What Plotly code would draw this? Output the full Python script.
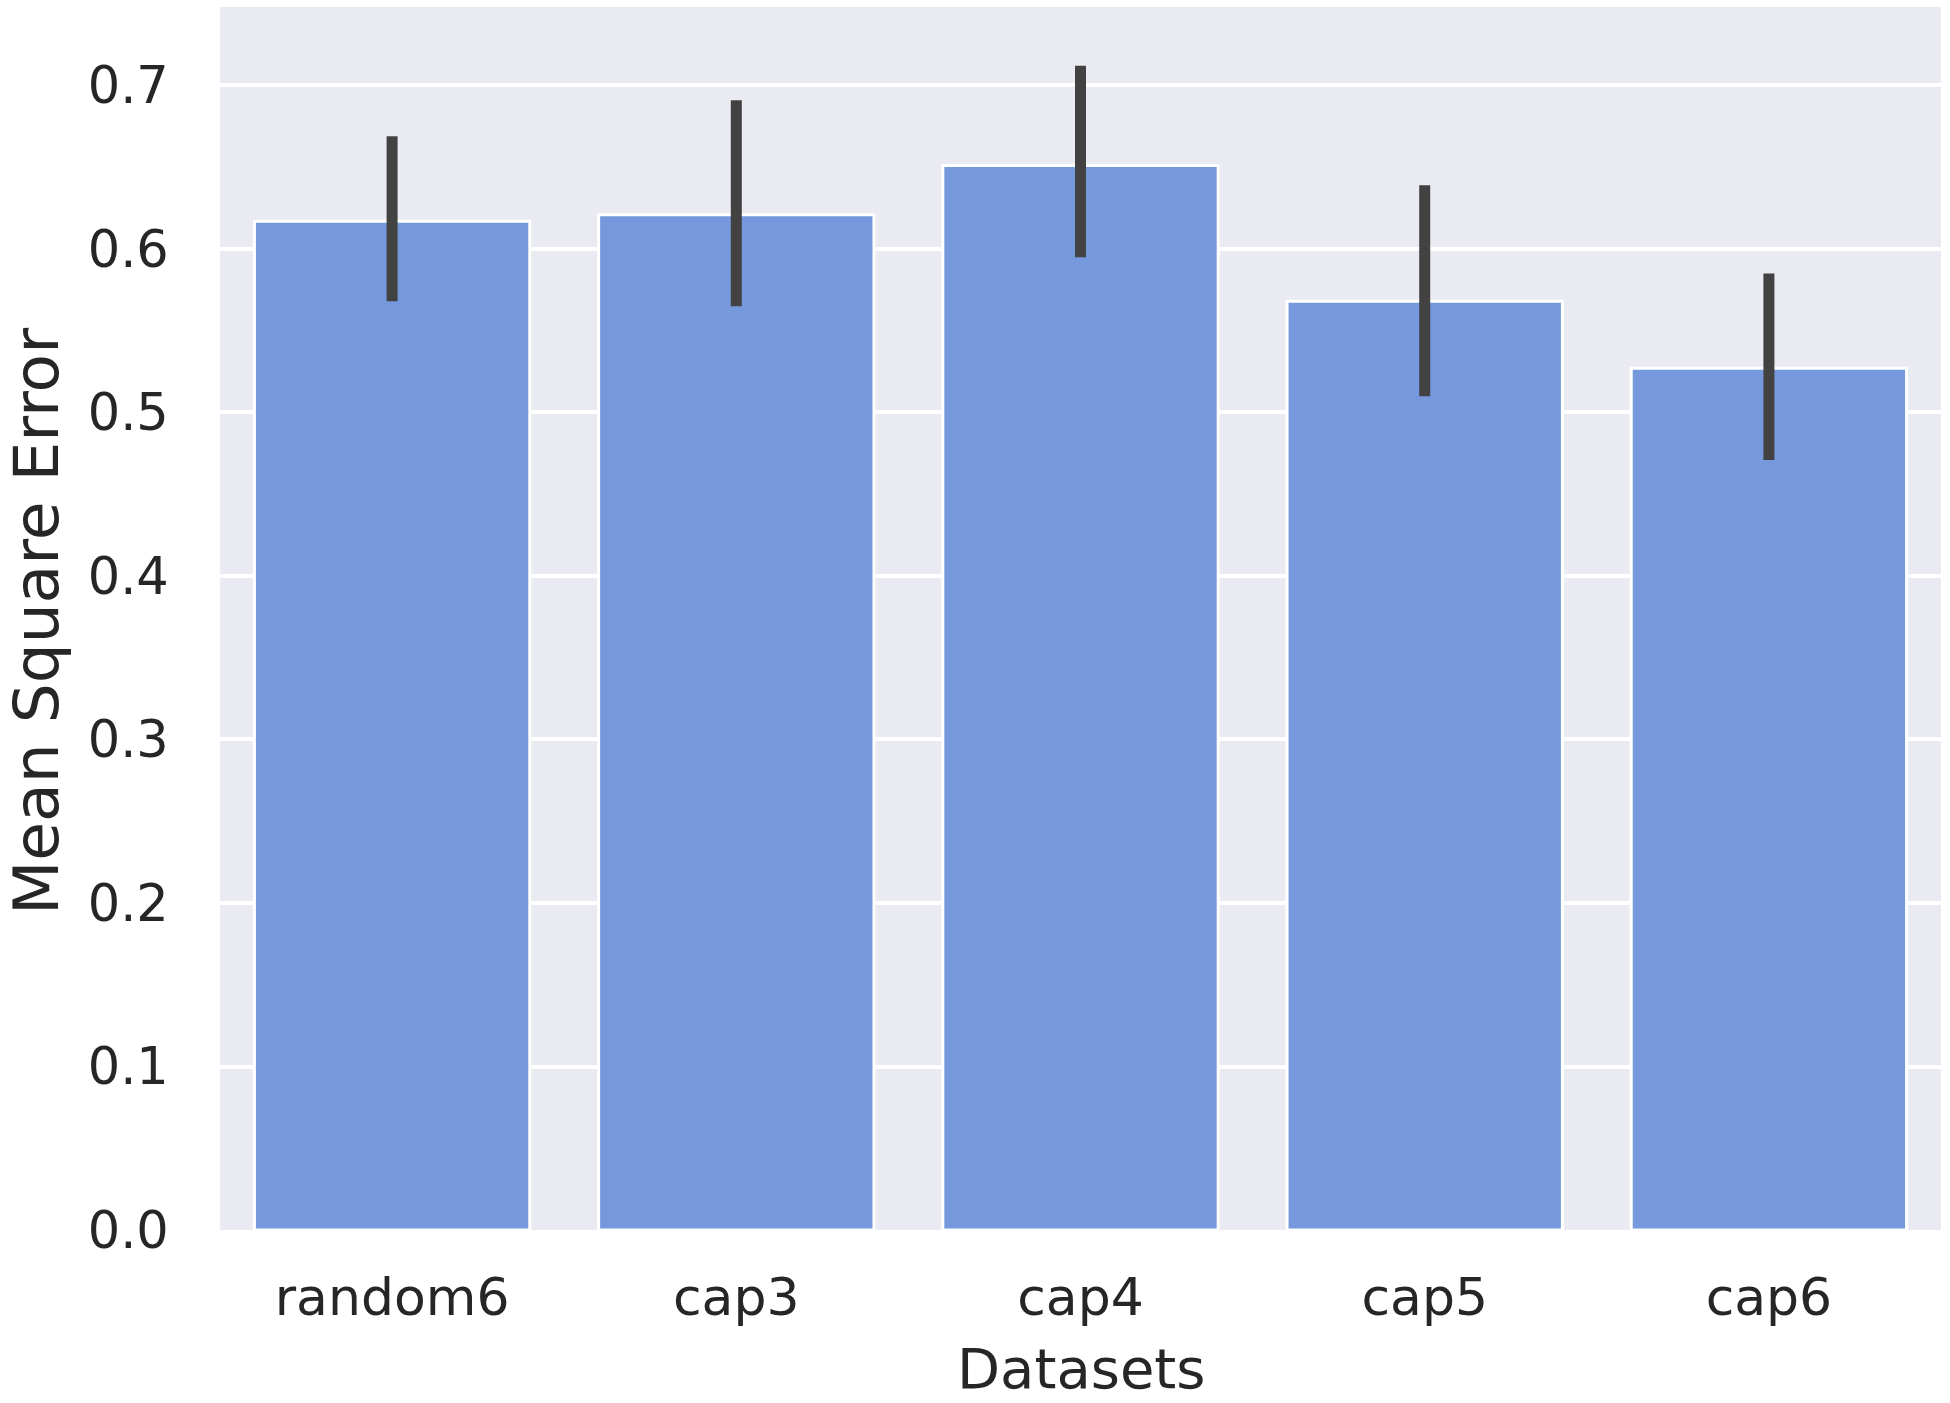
import plotly.graph_objects as go

categories = ["random6", "cap3", "cap4", "cap5", "cap6"]
mean_values = [0.617, 0.621, 0.651, 0.568, 0.527]
ci_upper = [0.669, 0.691, 0.712, 0.639, 0.585]
ci_lower = [0.568, 0.565, 0.595, 0.510, 0.471]
y_ticks = [0.0, 0.1, 0.2, 0.3, 0.4, 0.5, 0.6, 0.7]

err_plus = [u - m for u, m in zip(ci_upper, mean_values)]
err_minus = [m - l for m, l in zip(mean_values, ci_lower)]

FONT = "DejaVu Sans"
TXT = "#262626"

W, H = 1950, 1403
L, R, T, B = 220, 9, 7, 173
PW, PH = W - L - R, H - T - B

fig = go.Figure()
fig.add_trace(go.Bar(
    x=categories,
    y=mean_values,
    width=0.8,
    marker=dict(color="#7599DC", line=dict(color="white", width=3)),
    error_y=dict(
        type="data", symmetric=False,
        array=err_plus, arrayminus=err_minus,
        width=0, thickness=11, color="#424242",
    ),
))

fig.update_layout(
    width=W, height=H,
    margin=dict(l=L, r=R, t=T, b=B),
    paper_bgcolor="white",
    plot_bgcolor="#EAEAF2",
    showlegend=False,
    font=dict(family=FONT, size=52, color=TXT),
)
fig.update_xaxes(
    range=[-0.5, 4.5], automargin=False,
    showgrid=False, zeroline=False, showline=False,
    ticks="outside", ticklen=0, tickcolor="rgba(0,0,0,0)",
    ticklabelstandoff=22,
    tickfont=dict(family=FONT, size=52, color=TXT),
)
fig.update_yaxes(
    range=[0, 0.748], automargin=False,
    tickvals=y_ticks, tickformat=".1f",
    showgrid=True, gridcolor="white", gridwidth=3.5,
    zeroline=False, showline=False,
    ticks="outside", ticklen=0, tickcolor="rgba(0,0,0,0)",
    ticklabelstandoff=40,
    tickfont=dict(family=FONT, size=51, color=TXT),
)

# axis titles
fig.add_annotation(
    text="Datasets", xref="paper", yref="paper",
    x=0.5, y=(PH - (1368 - T)) / PH, xanchor="center", yanchor="middle",
    showarrow=False, font=dict(family=FONT, size=56, color=TXT),
)
fig.add_annotation(
    text="Mean Square Error", xref="paper", yref="paper",
    x=(36 - L) / PW, y=(PH - (622 - T)) / PH, xanchor="center", yanchor="middle",
    textangle=-90, showarrow=False, font=dict(family=FONT, size=63, color=TXT),
)

fig.write_html(
    "out.html",
    config={"displayModeBar": False},
    post_script="document.body.style.margin='0';",
)
